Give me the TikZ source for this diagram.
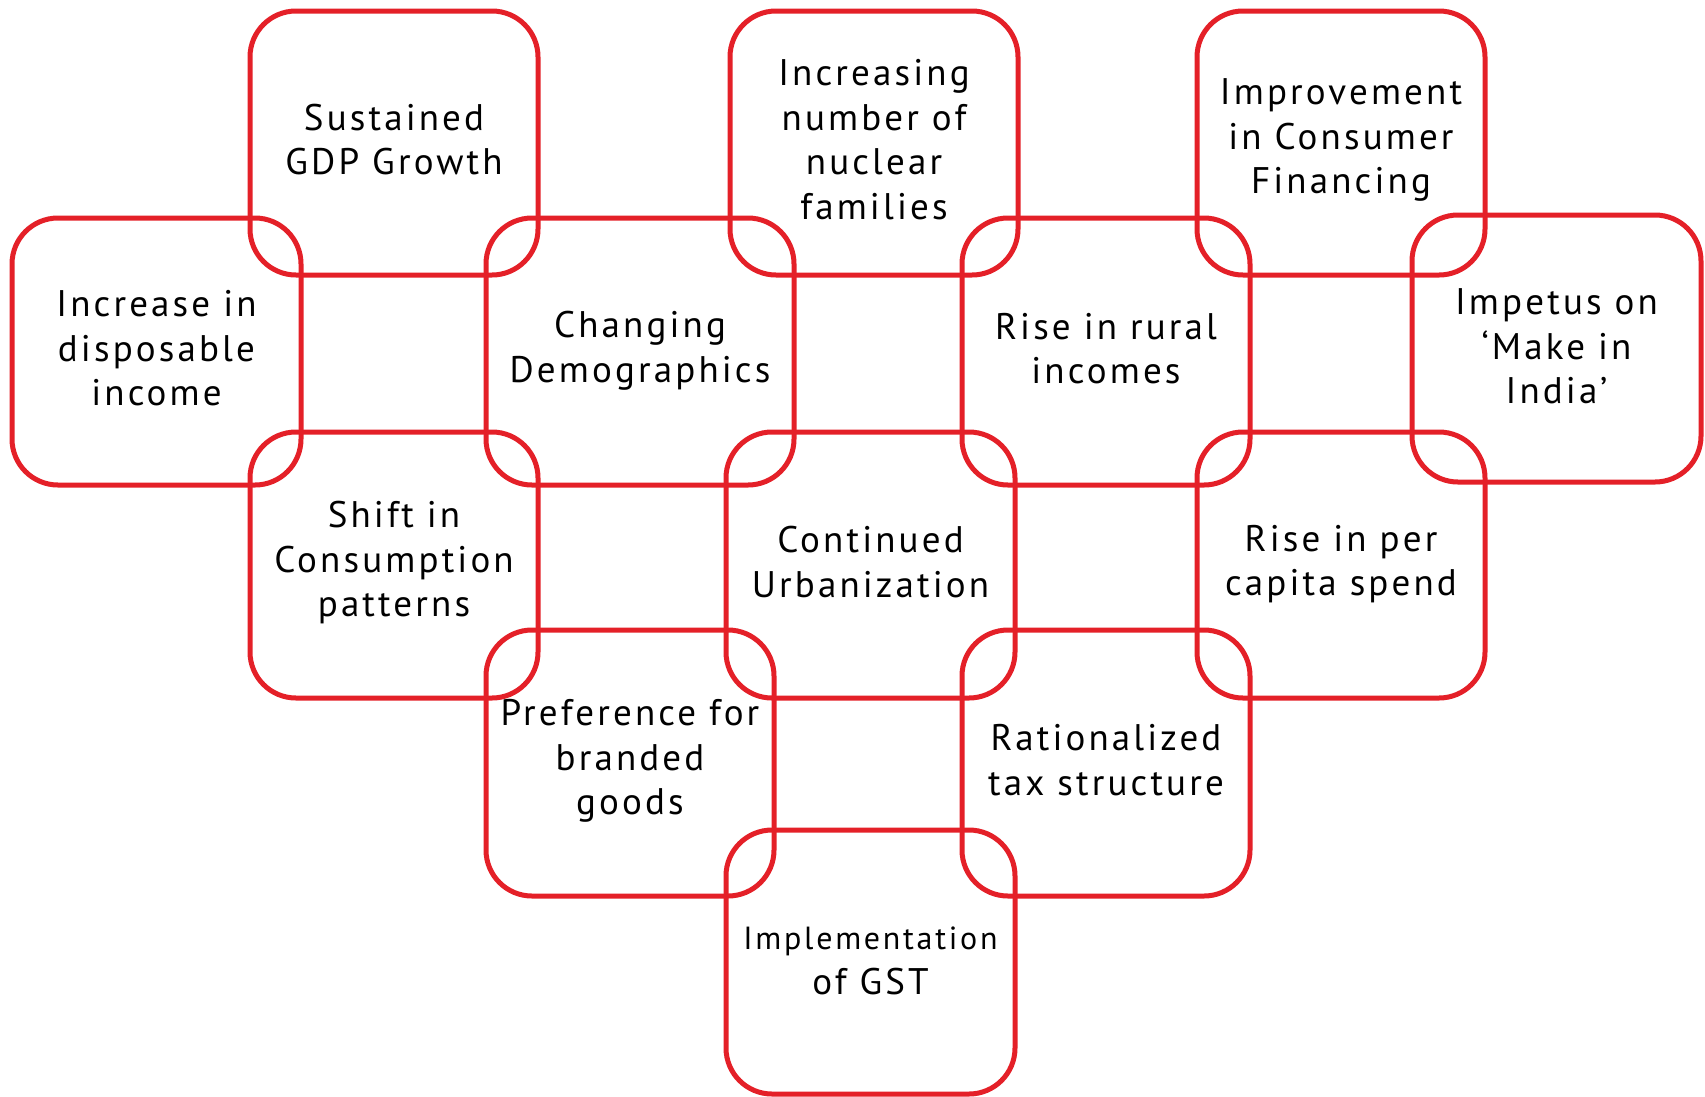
\documentclass[tikz,border=0pt]{standalone}
\usepackage{fontspec}
\setmainfont[LetterSpace=8.5]{PT Sans}
\definecolor{boxred}{RGB}{228,32,40}
\tikzset{
  card/.style={draw=boxred, line width=5pt, rounded corners=46pt, rectangle,
    inner sep=0pt},
  cardtext/.style={inner sep=0pt, align=center, text=black,
    font=\fontsize{37}{44.5}\selectfont},
}
\begin{document}
\begin{tikzpicture}[x=1pt,y=-1pt]
\useasboundingbox (0,0) rectangle (1705,1096);
\node[card, minimum width=288pt, minimum height=264pt] (gdp) at (394,143) {};
\node[card, minimum width=288pt, minimum height=264pt] (nuc) at (874,143) {};
\node[card, minimum width=288pt, minimum height=264pt] (fin) at (1341,143) {};
\node[card, minimum width=289pt, minimum height=267pt] (inc) at (156.5,351.5) {};
\node[card, minimum width=308pt, minimum height=267pt] (dem) at (640,351.5) {};
\node[card, minimum width=288pt, minimum height=267pt] (rur) at (1106,351.5) {};
\node[card, minimum width=289pt, minimum height=267pt] (mii) at (1556.5,348.5) {};
\node[card, minimum width=288pt, minimum height=266pt] (shi) at (394,565) {};
\node[card, minimum width=289pt, minimum height=266pt] (urb) at (870.5,565) {};
\node[card, minimum width=288pt, minimum height=266pt] (pcs) at (1341,565) {};
\node[card, minimum width=288pt, minimum height=266pt] (brd) at (630,763) {};
\node[card, minimum width=288pt, minimum height=266pt] (tax) at (1106,763) {};
\node[card, minimum width=289pt, minimum height=264pt] (gst) at (870.5,962) {};
\node[cardtext] (gdpt) at ([yshift=3.5pt]gdp.center) {Sustained\\GDP Growth};
\node[cardtext] (nuct) at ([yshift=3.5pt]nuc.center) {Increasing\\number of\\nuclear\\families};
\node[cardtext] (fint) at ([yshift=3pt]fin.center) {Improvement\\in Consumer\\Financing};
\node[cardtext] (inct) at ([yshift=3pt]inc.center) {Increase in\\disposable\\income};
\node[cardtext] (demt) at ([yshift=1pt]dem.center) {Changing\\Demographics};
\node[cardtext] (rurt) at ([yshift=3pt]rur.center) {Rise in rural\\incomes};
\node[cardtext] (miit) at ([yshift=2pt]mii.center) {Impetus on\\`Make in\\India'};
\node[cardtext] (shit) at ([yshift=2pt]shi.center) {Shift in\\Consumption\\patterns};
\node[cardtext] (urbt) at ([yshift=3pt]urb.center) {Continued\\Urbanization};
\node[cardtext] (pcst) at ([yshift=1pt]pcs.center) {Rise in per\\capita spend};
\node[cardtext] (brdt) at ([yshift=2pt]brd.center) {Preference for\\branded\\goods};
\node[cardtext] (taxt) at ([yshift=3pt]tax.center) {Rationalized\\tax structure};
\node[cardtext] (gstt) at ([yshift=1pt]gst.center) {{\fontsize{32}{44}\selectfont Implementation}\\of GST};
\end{tikzpicture}
\end{document}
